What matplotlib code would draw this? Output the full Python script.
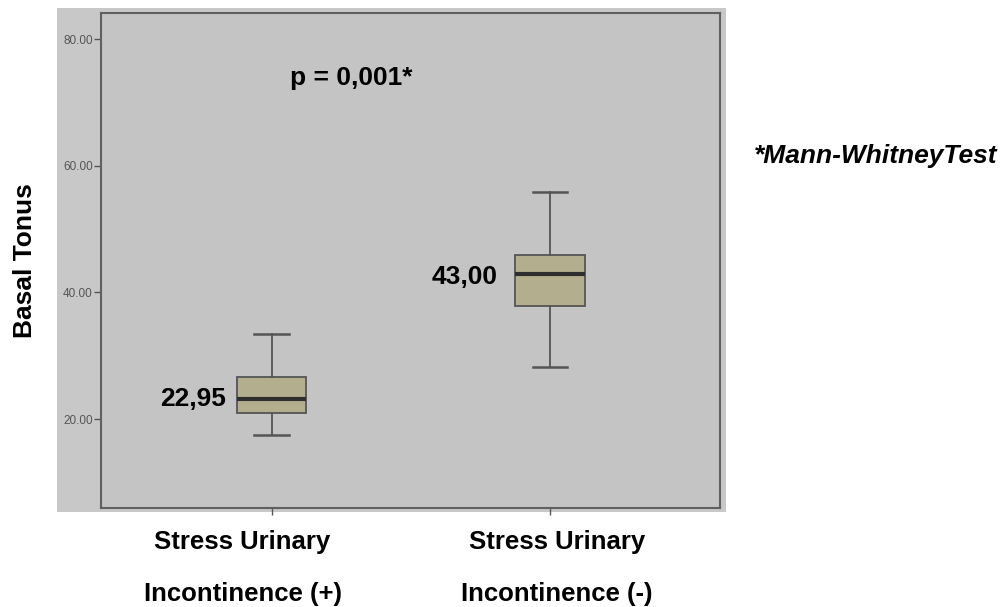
import matplotlib
matplotlib.use("Agg")
import matplotlib.pyplot as plt
from matplotlib.patches import Rectangle
from matplotlib.transforms import ScaledTranslation

# values
groups = ["Stress Urinary\nIncontinence (+)", "Stress Urinary\nIncontinence (-)"]
whisker_low = [17.5, 28.2]
q1 = [20.9, 37.9]
medians = [23.1, 43.0]
q3 = [26.7, 45.9]
whisker_high = [33.4, 55.9]
median_labels = ["22,95", "43,00"]
yticks = [20, 40, 60, 80]

plt.rcParams['font.family'] = ['Liberation Sans', 'DejaVu Sans']

fig = plt.figure(figsize=(10.03, 6.07), dpi=100)
fig.patch.set_facecolor("white")

# outer gray panel behind the plot (SPSS style)
bg = Rectangle((0.0568, 0.1565), 0.667, 0.8305, transform=fig.transFigure,
               facecolor="#c8c8c8", edgecolor="none", zorder=-5)
fig.patches.append(bg)

ax = fig.add_axes([0.1007, 0.1636, 0.6171, 0.8144])
ax.set_zorder(1)
ax.set_facecolor("#c4c4c4")

stats = []
for i in range(len(groups)):
    stats.append(dict(whislo=whisker_low[i], q1=q1[i], med=medians[i],
                      q3=q3[i], whishi=whisker_high[i], fliers=[]))

ax.bxp(stats, positions=[1, 2], widths=0.25, patch_artist=True, showfliers=False,
       boxprops=dict(facecolor="#b3af8e", edgecolor="#555555", linewidth=1.3),
       medianprops=dict(color="#2e2e2e", linewidth=3),
       whiskerprops=dict(color="#555555", linewidth=1.3),
       capprops=dict(color="#555555", linewidth=1.8), capwidths=0.125)

ax.set_xlim(0.387, 2.611)
ax.set_ylim(6.0, 84.1)
ax.set_yticks(yticks)
ax.set_yticklabels([f"{v:.2f}" for v in yticks], fontsize=8.5, color="#555555")
ax.set_xticks([1, 2])
ax.set_xticklabels([g.replace("\n", "\n\n") for g in groups], fontsize=18.5,
                   fontweight="bold", linespacing=1.1)
ax.tick_params(axis="y", length=5, width=1, color="#555555", pad=1)
ax.tick_params(axis="x", length=5, width=1, color="#555555", pad=11)
# SPSS puts the category labels a little off the tick marks
for lab, dx in zip(ax.get_xticklabels(), [-29, 7]):
    lab.set_transform(lab.get_transform() + ScaledTranslation(dx / 100, 0, fig.dpi_scale_trans))
for s in ax.spines.values():
    s.set_color("#606060")
    s.set_linewidth(1.5)

ax.set_ylabel("Basal Tonus", fontsize=19, fontweight="bold", labelpad=19)

label_gap = [0.165, 0.187]
label_dy = [0, -0.6]
for i in range(len(groups)):
    ax.text(1 + i - label_gap[i], medians[i] + label_dy[i], median_labels[i], fontsize=19,
            fontweight="bold", ha="right", va="center")

ax.text(1.285, 73.9, "p = 0,001*", fontsize=19, fontweight="bold", ha="center", va="center")
fig.text(0.7515, 0.743, "*Mann-WhitneyTest", fontsize=19, fontweight="bold",
         fontstyle="italic", ha="left", va="center")

fig.savefig("out.png", dpi=100)
